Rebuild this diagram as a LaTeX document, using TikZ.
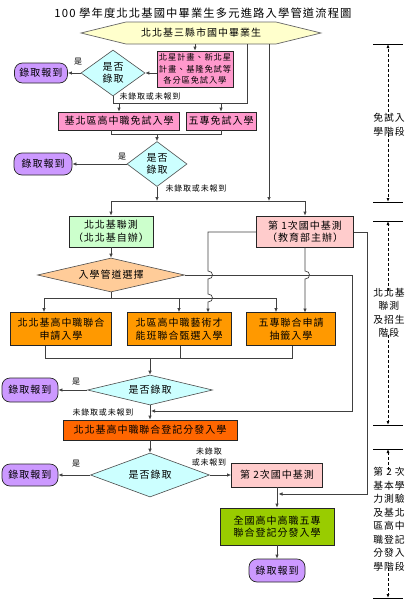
\documentclass[tikz,border=0pt]{standalone}
\usepackage{fontspec}
\setmainfont{Noto Sans CJK TC}[LetterSpace=10]
\usetikzlibrary{shapes.geometric,arrows.meta,calc}
\definecolor{hexfill}{HTML}{FFFFCC}
\definecolor{pinkA}{HTML}{FF99CC}
\definecolor{purp}{HTML}{CC99FF}
\definecolor{cyanL}{HTML}{CCFFFF}
\definecolor{greenL}{HTML}{CCFFCC}
\definecolor{pinkB}{HTML}{FFCCCC}
\definecolor{tan}{HTML}{FFCC99}
\definecolor{orng}{HTML}{FF9900}
\definecolor{redo}{HTML}{FF6600}
\definecolor{ygreen}{HTML}{99CC00}
\definecolor{linec}{HTML}{404040}
\begin{document}
\begin{tikzpicture}[x=1pt,y=-1pt,
  every node/.style={font=\fontsize{10}{12.5}\selectfont, inner sep=0pt, align=center},
  box/.style={draw=black!85, line width=0.7pt, minimum width=#1},
  pbox/.style={box=#1, fill=pinkA},
  rbox/.style={draw=black!85, line width=0.7pt, fill=purp, rounded corners=8pt, minimum width=56pt},
  dia/.style={diamond, draw=black!70, line width=0.6pt, fill=cyanL, aspect=#1},
  conn/.style={draw=linec, line width=0.7pt},
  arr/.style={conn, -{Latex[length=4pt,width=3.5pt]}},
  lbl/.style={font=\fontsize{8}{10.5}\selectfont},
  stg/.style={font=\fontsize{9.8}{13.5}\selectfont},
  stgline/.style={draw=black, line width=0.6pt},
  stgarr/.style={draw=black, line width=0.8pt, dash pattern=on 3pt off 2pt, -{Latex[length=4pt,width=3pt]}}
]
\useasboundingbox (0,0) rectangle (407,600);

% title
\node[font=\fontsize{11.3}{14}\selectfont] (title) at (203,13) {100 學年度北北基國中畢業生多元進路入學管道流程圖};

% top hexagon
\draw[draw=black!60, line width=0.7pt, fill=hexfill] (81,33) -- (126,22) -- (276,22) -- (321,33) -- (276,44) -- (126,44) -- cycle;
\node[minimum width=150pt, minimum height=22pt] (hex) at (201,33) {北北基三縣市國中畢業生};

% stage 1
\node[pbox=76pt, minimum height=36pt, font=\fontsize{8.3}{11.5}\selectfont] (p1) at (195,69) {北星計畫、新北星\\計畫、基隆免試等\\各分區免試入學};
\node[dia=1.4, minimum width=64pt, minimum height=46pt] (d1) at (113,73) {是否\\錄取};
\node[rbox, minimum width=53pt, minimum height=20pt] (r1) at (41,73) {錄取報到};
\node[lbl] (y1) at (78,62) {是};
\node[lbl] (n1) at (150,96) {未錄取或未報到};
\node[pbox=121pt, minimum height=18pt] (b1) at (119,121) {基北區高中職免試入學};
\node[pbox=70pt, minimum height=18pt] (b2) at (221,121) {五專免試入學};
\node[dia=1.33, minimum width=60pt, minimum height=45pt] (d2) at (157,164) {是否\\錄取};
\node[rbox, minimum width=58pt, minimum height=22pt] (r2) at (43,164) {錄取報到};
\node[lbl] (y2) at (122,157) {是};
\node[lbl] (n2) at (196,188) {未錄取或未報到};

\coordinate (j1) at (113,103);
\coordinate (j2) at (247,103);
\coordinate (k1) at (111,134);
\coordinate (m1) at (111,201);

\draw[arr] (hex.south -| p1.north) -- (p1.north);
\draw[arr] (p1.west |- d1.east) -- (d1.east);
\draw[arr] (d1.west) -- (r1.east);
\draw[conn] (d1.south) -- (j1) -- (j2) -- (hex.south -| j2);
\draw[arr] (j1 -| b1.north) -- (b1.north);
\draw[arr] (j1 -| b2.north) -- (b2.north);
\draw[conn] (b1.south -| k1) -- (k1) -| (b2.south);
\draw[arr] (k1 -| d2.north) -- (d2.north);
\draw[arr] (d2.west) -- (r2.east);

% stage 2
\node[box=84pt, minimum height=31pt, fill=greenL] (g1) at (111,231.5) {北北基聯測\\（北北基自辦）};
\node[box=97pt, minimum height=31pt, fill=pinkB] (t1) at (305,231.5) {第 1次國中基測\\（教育部主辦）};
\node[diamond, draw=black!70, line width=0.6pt, fill=tan, aspect=4.3, minimum width=147pt, minimum height=34pt] (od) at (111,275) {入學管道選擇};
\node[box=101pt, minimum height=33pt, fill=orng] (oA) at (61,329) {北北基高中職聯合\\申請入學};
\node[box=104pt, minimum height=33pt, fill=orng] (oB) at (179,329) {北區高中職藝術才\\能班聯合甄選入學};
\node[box=89pt, minimum height=33pt, fill=orng] (oC) at (291,329) {五專聯合申請\\抽籤入學};
\node[dia=4.2, minimum width=125pt, minimum height=30pt] (d3) at (150,390) {是否錄取};
\node[rbox, minimum height=24pt] (r3) at (30,390) {錄取報到};
\node[lbl] (y3) at (76,382) {是};
\node[lbl] (n3) at (103,412) {未錄取或未報到};

\coordinate (hexR) at (269,44);
\draw[arr] (hexR) -- (hexR |- m1);
\draw[arr] (d2.south) -- (d2.south |- m1);
\draw[conn] (m1) -- (m1 -| t1.north);
\draw[arr] (m1) -- (g1.north);
\draw[arr] (m1 -| t1.north) -- (t1.north);
\draw[arr] (g1.south) -- (od.north);

\coordinate (q1) at (111,298);
\draw[conn] (od.south) -- (q1);
\draw[conn] (44,298) -- (276,298);
\coordinate (a1) at (44,298);
\coordinate (a2) at (179,298);
\coordinate (a3) at (276,298);
\draw[arr] (a1) -- (a1 |- oA.north);
\draw[arr] (a2) -- (oB.north);
\draw[arr] (a3) -- (a3 |- oC.north);

% vertical lines from first exam, with bridges
\draw[arr] (t1.west |- 0,232) -- (208,232) -- (208,271)
  .. controls (214,271) and (214,279) .. (208,279) -- (208,294)
  .. controls (214,294) and (214,302) .. (208,302) -- (208 ,312.5);
\draw[arr] (t1.south) -- (305,271)
  .. controls (311,271) and (311,279) .. (305,279) -- (305,312.5);
\coordinate (ea) at (150,411);
\draw[arr] (od.east) -- (352,275) -- (352,411) -- ([xshift=1pt]ea);
\coordinate (eb) at (277,494);
\draw[arr] (t1.east |- 0,232) -- (367,232) -- (367,494) -- ([xshift=1.5pt]eb);

% bottoms of orange boxes
\coordinate (s1) at (45,358);
\coordinate (s3) at (292,358);
\draw[conn] (s1 |- oA.south) -- (s1) -- (s3) -- (s3 |- oC.south);
\draw[conn] (180,345.5) -- (180,358);
\draw[arr] (s1 -| d3.north) -- (d3.north);
\draw[arr] (d3.west) -- (r3.east);

% stage 3
\node[box=174pt, minimum height=20pt, fill=redo] (e1) at (150,430) {北北基高中職聯合登記分發入學};
\node[dia=2.7, minimum width=119pt, minimum height=44pt] (d4) at (150,475) {是否錄取};
\node[rbox, minimum height=22pt] (r4) at (30,475) {錄取報到};
\node[lbl] (y4) at (76,464) {是};
\node[lbl] (n4) at (209,457) {未錄取\\或未報到};
\node[box=91pt, minimum height=24pt, fill=pinkB] (t2) at (277,475) {第 2次國中基測};
\node[box=114pt, minimum height=37pt, fill=ygreen] (f1) at (277,526.5) {全國高中高職五專\\聯合登記分發入學};
\node[rbox, minimum height=23pt] (r5) at (277,570.5) {錄取報到};

\draw[arr] (d3.south) -- (e1.north);
\draw[arr] (e1.south) -- (d4.north);
\draw[arr] (d4.west) -- (r4.east);
\draw[arr] (d4.east) -- (t2.west);
\draw[arr] (t2.south) -- (f1.north);
\draw[arr] (f1.south) -- (r5.north);

% stage markers
\node[stg] (st1) at (389,125) {免試入\\學階段};
\node[stg] (st2) at (389,313) {北北基\\聯測\\及招生\\階段};
\node[stg] (st3) at (389,519) {第 2 次\\基本學\\力測驗\\及基北\\區高中\\職登記\\分發入\\學階段};
\draw[stgline] (373,44) -- (403,44);
\draw[stgline] (373,202) -- (403,202);
\draw[stgline] (373,221) -- (403,221);
\draw[stgline] (373,425) -- (403,425);
\draw[stgline] (373,449) -- (403,449);
\draw[stgline] (373,598) -- (403,598);
\draw[stgarr] ([yshift=-3pt]st1.north -| 388,0) -- (388,44);
\draw[stgarr] ([yshift=3pt]st1.south -| 388,0) -- (388,202);
\draw[stgarr] ([yshift=-3pt]st2.north -| 388,0) -- (388,221);
\draw[stgarr] ([yshift=3pt]st2.south -| 388,0) -- (388,425);
\draw[stgarr] ([yshift=-3pt]st3.north -| 388,0) -- (388,449);
\draw[stgarr] ([yshift=3pt]st3.south -| 388,0) -- (388,598);
\end{tikzpicture}
\end{document}
